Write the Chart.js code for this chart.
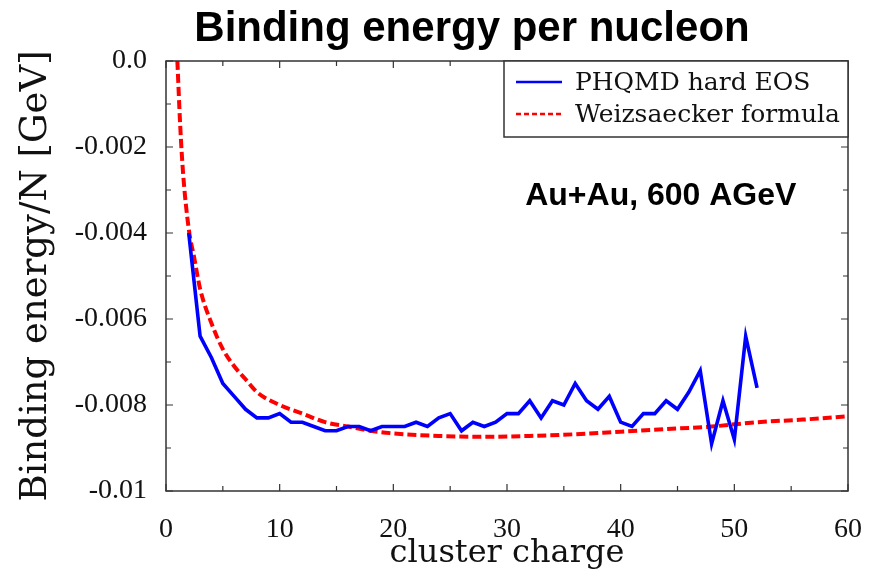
<!DOCTYPE html>
<html>
<head>
<meta charset="utf-8">
<title>Binding energy per nucleon</title>
<script src="https://cdn.jsdelivr.net/npm/chart.js@4.4.0/dist/chart.umd.min.js"></script>
<style>
    body { margin: 0; background: #fff; }
    #wrap { width: 873px; height: 573px; }
</style>
</head>
<body>
<div id="wrap"><canvas id="chart" width="873" height="573"></canvas></div>
<script>
// PHQMD hard EOS, Au+Au 600 AGeV: binding energy per nucleon vs cluster charge
const clusterCharge = [2, 3, 4, 5, 6, 7, 8, 9, 10, 11, 12, 13, 14, 15, 16, 17, 18, 19, 20, 21,
    22, 23, 24, 25, 26, 27, 28, 29, 30, 31, 32, 33, 34, 35, 36, 37, 38, 39, 40, 41,
    42, 43, 44, 45, 46, 47, 48, 49, 50, 51, 52];
const phqmdEnergy = [-0.0040, -0.0064, -0.0069, -0.0075, -0.0078, -0.0081, -0.0083, -0.0083, -0.0082, -0.0084,
    -0.0084, -0.0085, -0.0086, -0.0086, -0.0085, -0.0085, -0.0086, -0.0085, -0.0085, -0.0085,
    -0.0084, -0.0085, -0.0083, -0.0082, -0.0086, -0.0084, -0.0085, -0.0084, -0.0082, -0.0082,
    -0.0079, -0.0083, -0.0079, -0.0080, -0.0075, -0.0079, -0.0081, -0.0078, -0.0084, -0.0085,
    -0.0082, -0.0082, -0.0079, -0.0081, -0.0077, -0.0072, -0.0089, -0.0079, -0.0088, -0.0064,
    -0.0076];

// Weizsaecker curve, sampled
const weizCharge = [1, 1.25, 1.5, 2, 2.5, 3, 4, 5, 6, 7, 8, 10, 12, 14, 16, 18, 20, 24, 28, 32,
    36, 40, 44, 48, 52, 56, 60];
const weizEnergy = [0.0, -0.0015, -0.0026, -0.0039, -0.0046, -0.0053, -0.0061, -0.0067, -0.0071, -0.0074,
    -0.0077, -0.0080, -0.0082, -0.0084, -0.0085, -0.0086, -0.00866, -0.00872, -0.00874, -0.00872,
    -0.00868, -0.00862, -0.00856, -0.0085, -0.0084, -0.00834, -0.00826];

const yTickLabels = ['-0.01', '-0.008', '-0.006', '-0.004', '-0.002', '0.0'];
const xTickLabels = ['0', '10', '20', '30', '40', '50', '60'];
const seriesNames = ['PHQMD hard EOS', 'Weizsaecker formula'];

const serif = 'DejaVu Serif';
const tickSerif = 'Liberation Serif';

// slide heading, sits a bit left of the plot centre
const headingPlugin = {
    id: 'heading',
    afterDraw(chart) {
        const { ctx, chartArea: a } = chart;
        ctx.save();
        ctx.fillStyle = '#000';
        ctx.font = 'bold 42px "Liberation Sans"';
        ctx.textAlign = 'center';
        ctx.textBaseline = 'middle';
        ctx.fillText('Binding energy per nucleon', (a.left + a.right) / 2 - 35, 29);
        ctx.restore();
    }
};

// frame with inward major + minor ticks on all four sides
const framePlugin = {
    id: 'frame',
    afterDatasetsDraw(chart) {
        const { ctx, chartArea: a, scales } = chart;
        ctx.save();
        ctx.strokeStyle = '#333';
        ctx.lineWidth = 1.5;
        ctx.strokeRect(a.left, a.top, a.right - a.left, a.bottom - a.top);
        ctx.lineWidth = 1.2;
        ctx.beginPath();
        for (let v = 0; v <= 60; v += 5) {
            const px = scales.x.getPixelForValue(v);
            const len = v % 10 === 0 ? 7 : 5;
            ctx.moveTo(px, a.bottom); ctx.lineTo(px, a.bottom - len);
            ctx.moveTo(px, a.top); ctx.lineTo(px, a.top + len);
        }
        for (let k = 0; k <= 10; k++) {
            const py = scales.y.getPixelForValue(-k * 0.001);
            const len = k % 2 === 0 ? 7 : 5;
            ctx.moveTo(a.left, py); ctx.lineTo(a.left + len, py);
            ctx.moveTo(a.right, py); ctx.lineTo(a.right - len, py);
        }
        ctx.stroke();
        ctx.restore();
    }
};

// boxed legend in the upper right corner + reaction label
const boxLegendPlugin = {
    id: 'boxLegend',
    afterDatasetsDraw(chart) {
        const { ctx, chartArea: a, scales } = chart;
        const left = 504, top = a.top, right = a.right, bottom = a.top + 76;
        ctx.save();
        ctx.fillStyle = '#fff';
        ctx.fillRect(left, top, right - left, bottom - top);
        ctx.strokeStyle = '#333';
        ctx.lineWidth = 1.5;
        ctx.strokeRect(left, top, right - left, bottom - top);

        chart.data.datasets.forEach((ds, i) => {
            const y = top + 21 + i * 32;
            ctx.strokeStyle = ds.borderColor;
            ctx.lineWidth = 2.5;
            ctx.setLineDash(ds.borderDash ? [5, 3] : []);
            ctx.beginPath();
            ctx.moveTo(left + 12, y);
            ctx.lineTo(left + 58, y);
            ctx.stroke();
            ctx.setLineDash([]);
            ctx.fillStyle = '#111';
            ctx.font = '25px "' + serif + '"';
            ctx.textAlign = 'left';
            ctx.textBaseline = 'middle';
            ctx.fillText(ds.label, left + 71, y + 1);
        });

        ctx.fillStyle = '#000';
        ctx.font = 'bold 32px "Liberation Sans"';
        ctx.textAlign = 'left';
        ctx.textBaseline = 'middle';
        ctx.fillText('Au+Au, 600 AGeV', scales.x.getPixelForValue(31.6), scales.y.getPixelForValue(-0.00315));
        ctx.restore();
    }
};

new Chart(document.getElementById('chart'), {
    type: 'line',
    data: {
        datasets: [{
            label: seriesNames[0],
            data: clusterCharge.map((c, i) => ({ x: c, y: phqmdEnergy[i] })),
            borderColor: '#0000ff',
            borderWidth: 3.6,
            pointRadius: 0,
            tension: 0,
        }, {
            label: seriesNames[1],
            data: weizCharge.map((c, i) => ({ x: c, y: weizEnergy[i] })),
            borderColor: '#ff0000',
            borderWidth: 4,
            borderDash: [9, 4],
            pointRadius: 0,
            cubicInterpolationMode: 'monotone',
        }]
    },
    options: {
        responsive: false,
        animation: false,
        layout: { padding: { top: 61, right: 25 } },
        plugins: {
            legend: { display: false },
            tooltip: { enabled: false },
            title: { display: false },
        },
        scales: {
            x: {
                type: 'linear',
                min: 0,
                max: 60,
                grid: { display: false },
                border: { display: false },
                ticks: {
                    stepSize: 10,
                    padding: 14,
                    color: '#111',
                    font: { family: tickSerif, size: 28 },
                    maxRotation: 0,
                    callback: (v, i) => xTickLabels[i],
                },
                title: {
                    display: true,
                    text: 'cluster charge',
                    color: '#111',
                    font: { family: serif, size: 32 },
                    padding: { top: 0, bottom: 0 },
                },
                afterFit(scale) {
                    scale.height = 82;
                    // "60" may hang past the frame, the page margin covers it
                    scale.paddingRight = 0;
                },
            },
            y: {
                min: -0.01,
                max: 0,
                grid: { display: false },
                border: { display: false },
                ticks: {
                    stepSize: 0.002,
                    padding: 11,
                    color: '#111',
                    font: { family: tickSerif, size: 28 },
                    callback: (v, i) => yTickLabels[i],
                },
                title: {
                    display: true,
                    text: 'Binding energy/N [GeV]',
                    color: '#111',
                    font: { family: serif, size: 37 },
                    padding: { top: 14, bottom: 0 },
                },
                afterFit(scale) { scale.width = 166; },
            },
        },
    },
    plugins: [framePlugin, boxLegendPlugin, headingPlugin],
});
</script>
</body>
</html>
